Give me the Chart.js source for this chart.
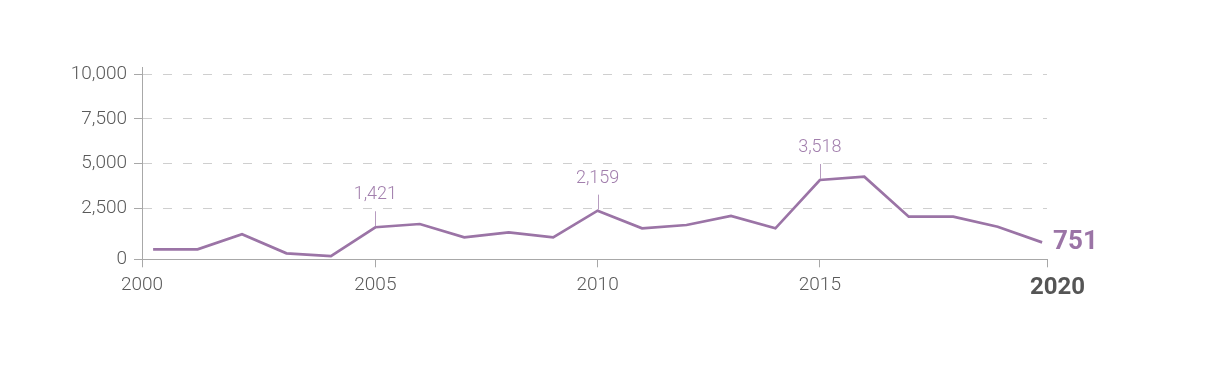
<!DOCTYPE html>
<html>
<head>
<meta charset="utf-8">
<script src="https://cdn.jsdelivr.net/npm/chart.js@4/dist/chart.umd.min.js"></script>
<style>
  html, body { margin: 0; padding: 0; background: #ffffff; }
  #wrap { width: 1215px; height: 373px; }
</style>
</head>
<body>
<div id="wrap"><canvas id="c" width="1215" height="373"></canvas></div>
<script>
// ---- data ----
const years = [2000, 2001, 2002, 2003, 2004, 2005, 2006, 2007, 2008, 2009, 2010,
               2011, 2012, 2013, 2014, 2015, 2016, 2017, 2018, 2019, 2020];
const values = [444, 444, 1109, 266, 146, 1421, 1566, 976, 1198, 976, 2159,
                1375, 1522, 1921, 1375, 3518, 3665, 1890, 1890, 1446, 751];
const annotatedYears = [2005, 2010, 2015];
const annotatedLabels = ['1,421', '2,159', '3,518'];
const lastValueLabel = '751';
const yTickValues = [0, 2500, 5000, 7500, 10000];
const yTickLabels = ['0', '2,500', '5,000', '7,500', '10,000'];
const xTickValues = [2000, 2005, 2010, 2015, 2020];
const xTickLabels = ['2000', '2005', '2010', '2015', '2020'];

// ---- styles ----
const LINE = '#9b74a6';
const ANNO = '#a27fad';
const LEADER = '#b79cc0';
const TXT = '#5a5a5a';
const AXIS = '#a8a8a8';
const GRID = '#cfcfcf';
const FONT = 'Roboto, "Open Sans", sans-serif';

const X_MIN = 1999.75, X_MAX = 2020.11;
const Y2_MIN = -348, Y2_MAX = 10000;   // grid/tick axis
const Y_MAX = 8221;                     // data axis

const points = years.map((y, i) => ({ x: y, y: values[i] }));

const annoPlugin = {
  id: 'anno',
  afterDraw(chart) {
    const ctx = chart.ctx;
    const meta = chart.getDatasetMeta(0);
    const area = chart.chartArea;
    ctx.save();
    // y axis extension above chart area
    ctx.strokeStyle = AXIS;
    ctx.lineWidth = 1;
    ctx.beginPath();
    ctx.moveTo(Math.round(area.left) + 0.5, area.top - 7);
    ctx.lineTo(Math.round(area.left) + 0.5, area.top);
    ctx.stroke();

    // annotations
    annotatedYears.forEach((yr, k) => {
      const idx = years.indexOf(yr);
      const pt = meta.data[idx];
      const x = Math.round(pt.x) + 0.5;
      ctx.strokeStyle = LEADER;
      ctx.lineWidth = 1;
      ctx.beginPath();
      ctx.moveTo(x, pt.y - 1);
      ctx.lineTo(x, pt.y - 16);
      ctx.stroke();
      ctx.fillStyle = ANNO;
      ctx.font = '300 18px ' + FONT;
      ctx.textAlign = 'center';
      ctx.textBaseline = 'alphabetic';
      ctx.fillText(annotatedLabels[k], pt.x, pt.y - 28);
    });

    // last value
    const last = meta.data[meta.data.length - 1];
    ctx.fillStyle = LINE;
    ctx.font = 'bold 26px ' + FONT;
    ctx.textAlign = 'left';
    ctx.textBaseline = 'alphabetic';
    ctx.fillText(lastValueLabel, last.x + 11, last.y + 7);

    // bold final year label
    const xs = chart.scales.x;
    ctx.fillStyle = '#555555';
    ctx.font = 'bold 24px ' + FONT;
    ctx.textAlign = 'center';
    ctx.fillText(xTickLabels[xTickLabels.length - 1], xs.getPixelForValue(X_MAX) + 10.5, 294);
    ctx.restore();
  }
};

new Chart(document.getElementById('c'), {
  type: 'line',
  data: {
    datasets: [{
      data: points,
      borderColor: LINE,
      borderWidth: 2.7,
      pointRadius: 0,
      tension: 0,
      fill: false,
      yAxisID: 'y',
      xAxisID: 'x'
    }]
  },
  options: {
    responsive: false,
    animation: false,
    devicePixelRatio: 1,
    layout: { padding: { left: 0, top: 74, right: 168, bottom: 0 } },
    plugins: { legend: { display: false }, tooltip: { enabled: false } },
    scales: {
      x: {
        type: 'linear',
        position: 'bottom',
        min: X_MIN,
        max: X_MAX,
        afterBuildTicks(scale) {
          scale.ticks = xTickValues.map((v, i) => ({
            value: i === 0 ? X_MIN : (i === xTickValues.length - 1 ? X_MAX : v)
          }));
        },
        afterFit(scale) { scale.height = 373 - 259.3; },
        grid: {
          drawOnChartArea: false,
          drawTicks: true,
          tickLength: 8,
          tickColor: AXIS,
          color: AXIS
        },
        border: { display: true, color: AXIS, width: 1 },
        ticks: {
          autoSkip: false,
          maxRotation: 0,
          padding: 7,
          color: TXT,
          font: { family: FONT, size: 19, weight: '300' },
          callback(value, index) {
            return index === xTickLabels.length - 1 ? '' : xTickLabels[index];
          }
        }
      },
      y: {
        type: 'linear',
        display: false,
        min: 0,
        max: Y_MAX
      },
      y2: {
        type: 'linear',
        position: 'left',
        min: Y2_MIN,
        max: Y2_MAX,
        afterBuildTicks(scale) {
          scale.ticks = yTickValues.map((v, i) => ({ value: i === 0 ? Y2_MIN : v }));
        },
        afterFit(scale) { scale.width = 142; },
        grid: {
          drawOnChartArea: true,
          drawTicks: true,
          tickLength: 8,
          color: (ctx) => (ctx.tick && ctx.tick.value < 0) ? 'rgba(0,0,0,0)' : GRID,
          tickColor: AXIS,
          tickBorderDash: [],
          lineWidth: 1
        },
        border: { display: true, color: AXIS, width: 1, dash: [9, 11] },
        ticks: {
          padding: 7,
          color: TXT,
          font: { family: FONT, size: 19, weight: '300' },
          callback(value, index) { return yTickLabels[index]; }
        }
      }
    }
  },
  plugins: [annoPlugin]
});
</script>
</body>
</html>
